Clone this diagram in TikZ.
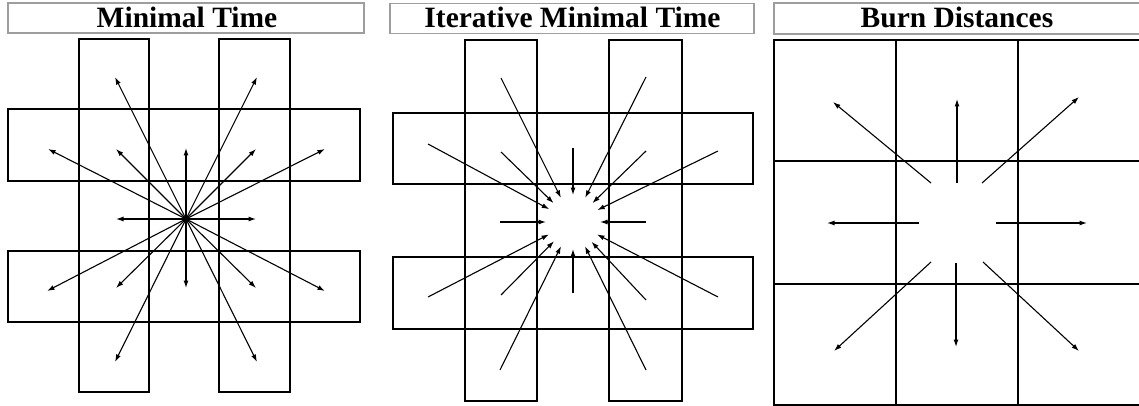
\documentclass[tikz,border=0pt]{standalone}
\usepackage{fontspec}
\setmainfont{Liberation Serif}
\usetikzlibrary{arrows.meta,calc}
\begin{document}
\begin{tikzpicture}[x=1pt,y=-1pt,
  grid/.style={line width=1.8pt, draw=black},
  titlebox/.style={draw=black!38, line width=1.2pt, inner sep=0pt, minimum height=30pt},
  titletext/.style={anchor=base, inner sep=0pt, font=\fontsize{29.5}{30}\selectfont\bfseries},
  ray/.style={line width=1.1pt, -{Latex[length=7.5pt,width=5pt]}},
]
\useasboundingbox (0,0) rectangle (1139,406);
\clip (0,0) rectangle (1139,406);

% ---------- titles ----------
\node[titlebox, minimum width=356pt] (t1) at (186,18) {};
\node[titletext] (l1) at (187,28) {Minimal Time};
\node[titlebox, minimum width=364pt] (t2) at (572,18.5) {};
\node[titletext] (l2) at (572.5,28) {Iterative Minimal Time};
\node[titlebox, minimum width=366pt, minimum height=31pt] (t3) at (957,18.5) {};
\node[titletext] (l3) at (957,28) {Burn Distances};

% ---------- panel 1: Minimal Time ----------
\draw[grid] (79,39) rectangle (149,392);
\draw[grid] (219,39) rectangle (290,392);
\draw[grid] (8,109) rectangle (360,181);
\draw[grid] (8,251) rectangle (360,322);
\coordinate (c1) at (186,219);
\foreach \dx/\dy [count=\i] in {-70/-70,0/-71,70/-70,-70/0,70/0,-70/69,0/69,70/69,
    -71/-142,71/-142,-138/-70,139/-70,-139/72,139/72,-71/143,71/143}{
  \coordinate (p1-\i) at ($(c1)+(\dx,\dy)$);
  \draw[ray] (c1) -- (p1-\i);
}

% ---------- panel 2: Iterative Minimal Time ----------
\draw[grid] (465,40) rectangle (537,401);
\draw[grid] (609,40) rectangle (682,401);
\draw[grid] (393,113) rectangle (753,184);
\draw[grid] (393,257) rectangle (753,329);
\coordinate (c2) at (573,222);
\foreach \dx/\dy [count=\i] in {-72/-70,0/-74,73/-71,-73/0,73/0,-72/73,0/71,73/78,
    -72/-144,73/-145,-145/-78,145/-71,-145/75,145/75,-73/148,73/148}{
  \coordinate (s2-\i) at ($(c2)+(\dx,\dy)$);
  \coordinate (e2-\i) at ($(c2)!27pt!(s2-\i)$);
  \draw[ray] (s2-\i) -- (e2-\i);
}

% ---------- panel 3: Burn Distances ----------
\draw[grid] (774,40) rectangle (1140,405);
\draw[grid] (896,40) -- (896,405);
\draw[grid] (1018,40) -- (1018,405);
\draw[grid] (774,161) -- (1140,161);
\draw[grid] (774,284) -- (1140,284);
\foreach \sx/\sy/\ex/\ey [count=\i] in {957/183/957/99, 956/263/956/347, 919/223/827/223, 996/223/1087/223,
    931/183/833/102, 982/183/1079/97, 931/262/834/351, 983/262/1079/351}{
  \coordinate (s3-\i) at (\sx,\sy);
  \coordinate (e3-\i) at (\ex,\ey);
  \draw[ray] (s3-\i) -- (e3-\i);
}
\end{tikzpicture}
\end{document}
